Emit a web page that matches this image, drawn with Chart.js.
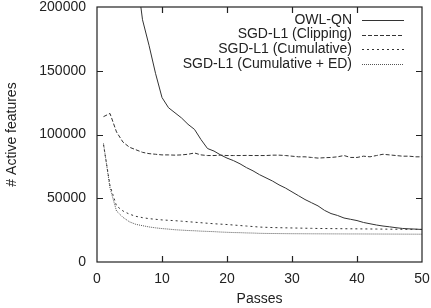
<!DOCTYPE html>
<html>
<head>
<meta charset="utf-8">
<script src="https://cdn.jsdelivr.net/npm/chart.js@4.4.1/dist/chart.umd.min.js"></script>
<style>
  html, body { margin: 0; padding: 0; background: #fff; }
</style>
</head>
<body>
<canvas id="chart" width="431" height="308"></canvas>
<script>
// Data (x = training passes)
const passes = [1,2,3,4,5,6,7,8,9,10,11,12,13,14,15,16,17,18,19,20,21,22,23,24,25,26,27,28,29,30,31,32,33,34,35,36,37,38,39,40,41,42,43,44,45,46,47,48,49,50];
const owlqn = [null,null,null,null,null,230000,190000,170000,148000,129000,121000,117000,113000,108000,104000,96000,89000,87000,84000,81500,79500,77000,74000,71500,68500,66000,63500,60500,58000,55000,52000,49000,46500,44000,40500,38000,36500,34500,33500,32500,31000,30000,29000,28200,27600,26900,26300,26000,25800,25500];
const clipping = [114000,116500,102000,94000,90000,88000,86000,85000,84500,84000,84000,83800,84000,84500,85500,84000,83500,83500,83800,83500,83500,83500,83600,83500,83500,83500,83800,83800,83500,83000,82500,82500,82000,81500,81800,82000,82500,83500,82000,82000,83000,82500,83500,84500,84000,83500,83000,83000,82500,82500];
const cumulative = [92000,60000,44000,40000,37500,35800,34800,34000,33500,33000,32700,32400,32000,31600,31200,30800,30400,30000,29700,29400,29000,28600,28200,27800,27400,27200,27000,26900,26800,26700,26600,26500,26400,26300,26250,26200,26150,26100,26050,26000,25950,25900,25850,25800,25750,25700,25650,25600,25600,25600];
const cumulativeED = [93000,58000,40000,35000,31500,29500,28500,27500,26800,26200,25800,25300,25000,24700,24500,24200,24000,23800,23500,23300,23100,23000,22800,22700,22500,22400,22350,22300,22250,22200,22180,22150,22120,22100,22080,22060,22040,22020,22000,22000,21980,21960,21940,21920,21900,21880,21860,21840,21820,21800];

const xTicks = [0, 10, 20, 30, 40, 50];
const yTicks = [0, 50000, 100000, 150000, 200000];
const seriesNames = ['OWL-QN', 'SGD-L1 (Clipping)', 'SGD-L1 (Cumulative)', 'SGD-L1 (Cumulative + ED)'];

const ink = '#222';
const font = { family: 'Liberation Sans, Arial, sans-serif', size: 14 };

function toPoints(values) {
    return passes.map((p, i) => ({ x: p, y: values[i] }));
}

const styles = [
    { color: '#333', dash: [] },
    { color: '#333', dash: [4, 2] },
    { color: '#333', dash: [2, 3] },
    { color: '#555', dash: [1, 1] }
];

const datasets = [owlqn, clipping, cumulative, cumulativeED].map((vals, i) => ({
    label: seriesNames[i],
    data: toPoints(vals),
    borderColor: styles[i].color,
    borderDash: styles[i].dash,
    borderWidth: 1,
    pointRadius: 0,
    tension: 0,
    spanGaps: false
}));

// Frame with inward tick marks on all four sides + gnuplot-style legend
const framePlugin = {
    id: 'frame',
    afterDatasetsDraw(chart) {
        const { ctx, chartArea: a, scales } = chart;
        ctx.save();
        ctx.strokeStyle = ink;
        ctx.lineWidth = 1.2;
        ctx.setLineDash([]);
        ctx.strokeRect(a.left, a.top, a.right - a.left, a.bottom - a.top);
        const len = 6;
        ctx.beginPath();
        xTicks.slice(1, -1).forEach(v => {
            const px = Math.round(scales.x.getPixelForValue(v)) + 0.5;
            ctx.moveTo(px, a.bottom); ctx.lineTo(px, a.bottom - len);
            ctx.moveTo(px, a.top); ctx.lineTo(px, a.top + len);
        });
        yTicks.slice(1, -1).forEach(v => {
            const py = Math.round(scales.y.getPixelForValue(v)) + 0.5;
            ctx.moveTo(a.left, py); ctx.lineTo(a.left + len, py);
            ctx.moveTo(a.right, py); ctx.lineTo(a.right - len, py);
        });
        ctx.stroke();

        // legend
        ctx.font = `${font.size}px ${font.family}`;
        ctx.fillStyle = ink;
        ctx.textAlign = 'right';
        ctx.textBaseline = 'middle';
        const textRight = 352, lineL = 362, lineR = 404;
        chart.data.datasets.forEach((ds, i) => {
            const y = 20 + i * 14.6;
            ctx.fillText(ds.label, textRight, y);
            ctx.strokeStyle = ds.borderColor;
            ctx.lineWidth = 1;
            ctx.setLineDash(ds.borderDash);
            ctx.beginPath();
            ctx.moveTo(lineL, Math.round(y) + 0.5);
            ctx.lineTo(lineR, Math.round(y) + 0.5);
            ctx.stroke();
        });
        ctx.restore();
    }
};

new Chart(document.getElementById('chart'), {
    type: 'line',
    data: { datasets },
    options: {
        responsive: false,
        animation: false,
        layout: { padding: { top: 7, right: 9, left: 0, bottom: 0 } },
        plugins: { legend: { display: false }, tooltip: { enabled: false } },
        scales: {
            x: {
                type: 'linear',
                min: 0,
                max: 50,
                afterBuildTicks: s => { s.ticks = xTicks.map(v => ({ value: v })); },
                afterFit: s => { s.height = 46; s.paddingLeft = 0; s.paddingRight = 0; },
                grid: { display: false, drawTicks: false },
                border: { display: false },
                ticks: { color: ink, font, padding: 9 },
                title: { display: true, text: 'Passes', color: ink, font, padding: { top: 0, bottom: 0 } }
            },
            y: {
                min: 0,
                max: 200000,
                afterBuildTicks: s => { s.ticks = yTicks.map(v => ({ value: v })); },
                afterFit: s => { s.width = 97; s.paddingTop = 0; s.paddingBottom = 0; },
                grid: { display: false, drawTicks: false },
                border: { display: false },
                ticks: { color: ink, font, padding: 11, callback: v => String(v) },
                title: { display: true, text: '# Active features', color: ink, font, padding: { top: 4, bottom: 0 } }
            }
        }
    },
    plugins: [framePlugin]
});
</script>
</body>
</html>
